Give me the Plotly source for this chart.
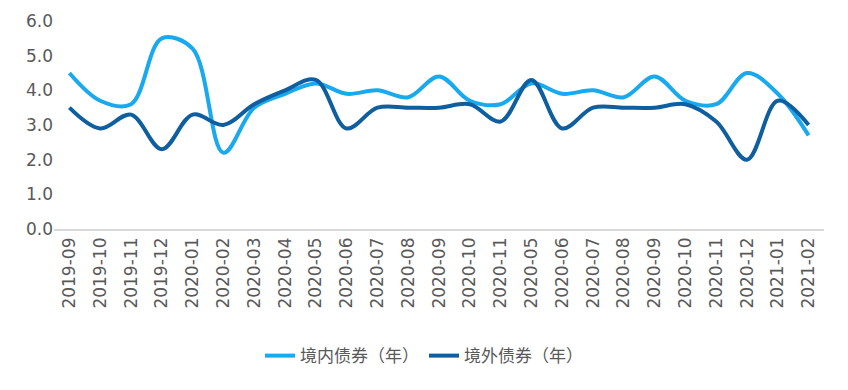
import plotly.graph_objects as go

months = ["2019-09", "2019-10", "2019-11", "2019-12", "2020-01", "2020-02", "2020-03",
          "2020-04", "2020-05", "2020-06", "2020-07", "2020-08", "2020-09", "2020-10",
          "2020-11", "2020-05", "2020-06", "2020-07", "2020-08", "2020-09", "2020-10",
          "2020-11", "2020-12", "2021-01", "2021-02"]
domestic = [4.5, 3.7, 3.6, 5.5, 5.2, 2.2, 3.5, 3.9, 4.2, 3.9, 4.0, 3.8, 4.4, 3.7,
            3.6, 4.2, 3.9, 4.0, 3.8, 4.4, 3.7, 3.6, 4.5, 3.9, 2.7]
overseas = [3.5, 2.9, 3.3, 2.3, 3.3, 3.0, 3.6, 4.0, 4.3, 2.9, 3.5, 3.5, 3.5, 3.6,
            3.1, 4.3, 2.9, 3.5, 3.5, 3.5, 3.6, 3.1, 2.0, 3.7, 3.0]
yticks = [0, 1, 2, 3, 4, 5, 6]

idx = list(range(len(months)))
font = "DejaVu Sans, Noto Sans CJK SC, sans-serif"
cjk = "Noto Sans CJK SC, sans-serif"

fig = go.Figure()
fig.add_trace(go.Scatter(x=idx, y=domestic, mode="lines", name="境内债券（年）",
                         line=dict(color="#18A9EE", width=4, shape="spline", smoothing=1.0)))
fig.add_trace(go.Scatter(x=idx, y=overseas, mode="lines", name="境外债券（年）",
                         line=dict(color="#0E5EA0", width=4, shape="spline", smoothing=1.0)))

fig.update_layout(
    width=848, height=390,
    margin=dict(l=54, r=24, t=21, b=161, autoexpand=False),
    paper_bgcolor="white", plot_bgcolor="white",
    font=dict(family=font, color="#595959"),
    showlegend=True,
    legend=dict(orientation="h", xref="container", yref="container",
                x=0.5, xanchor="center", y=0.087, yanchor="middle",
                font=dict(size=17, color="#595959", family=cjk), itemwidth=30,
                tracegroupgap=0),
    xaxis=dict(range=[-0.5, len(months) - 0.5], tickmode="array", tickvals=idx,
               ticktext=months, tickangle=-90, tickfont=dict(size=17, color="#595959"),
               showgrid=False, zeroline=False, showline=True, linecolor="#d9d9d9",
               linewidth=1.5, ticks="", automargin=False),
    yaxis=dict(range=[0, 6], tickmode="array", tickvals=yticks,
               ticktext=[f"{v:.1f}" for v in yticks], tickfont=dict(size=17, color="#595959"),
               showgrid=False, zeroline=False, showline=False, ticks="", automargin=False),
)

fig.write_html("out.html", config={"displayModeBar": False},
               post_script="document.body.style.margin='0';document.body.style.overflow='hidden';")
